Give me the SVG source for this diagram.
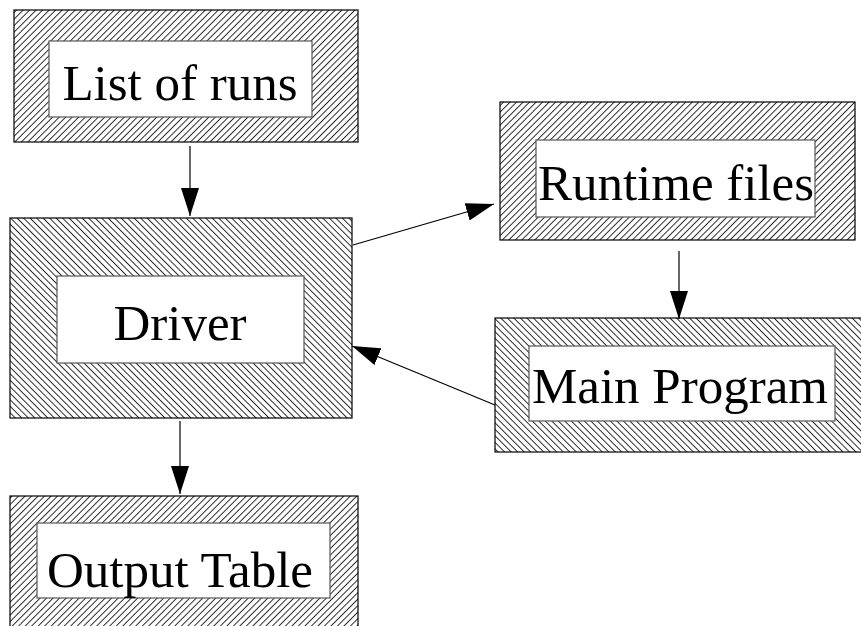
<svg xmlns="http://www.w3.org/2000/svg" width="861" height="626" viewBox="0 0 861 626">
<style>
.outer{stroke:#000;stroke-width:1.2}
.inner{fill:#fff;stroke:#555;stroke-width:1.2}
.lbl{font-family:"Liberation Serif","Times New Roman",serif;font-size:51px;fill:#000;text-anchor:middle}
.conn{stroke:#000;stroke-width:1.2;fill:none}
</style>
<defs>
<pattern id="fwd" patternUnits="userSpaceOnUse" width="4.6" height="10" patternTransform="rotate(45)">
<line x1="0.5" y1="0" x2="0.5" y2="10" stroke="#000" stroke-width="0.85"/>
</pattern>
<pattern id="back" patternUnits="userSpaceOnUse" width="4.6" height="10" patternTransform="rotate(-45)">
<line x1="0.5" y1="0" x2="0.5" y2="10" stroke="#000" stroke-width="0.85"/>
</pattern>
<marker id="ah" viewBox="0 0 28 18" refX="28" refY="9" markerWidth="28" markerHeight="18" markerUnits="userSpaceOnUse" orient="auto">
<path d="M0,0 L28,9 L0,18 Z" fill="#000"/>
</marker>
</defs>
<rect width="861" height="626" fill="#fff"/>
<g id="list-of-runs">
<rect class="outer" x="14" y="10" width="344" height="132" fill="url(#fwd)"/>
<rect class="inner" x="49" y="41" width="263" height="76"/>
<text class="lbl" x="180" y="100">List of runs</text>
</g>
<g id="driver">
<rect class="outer" x="10" y="218" width="342" height="200" fill="url(#back)"/>
<rect class="inner" x="57" y="276" width="247" height="87"/>
<text class="lbl" x="180" y="340">Driver</text>
</g>
<g id="runtime-files">
<rect class="outer" x="500" y="102" width="355" height="138" fill="url(#fwd)"/>
<rect class="inner" x="536" y="140" width="279" height="77"/>
<text class="lbl" x="676" y="200">Runtime files</text>
</g>
<g id="main-program">
<rect class="outer" x="495" y="318" width="370" height="134" fill="url(#back)"/>
<rect class="inner" x="529" y="346" width="306" height="75"/>
<text class="lbl" x="680" y="403">Main Program</text>
</g>
<g id="output-table">
<rect class="outer" x="10" y="496" width="348" height="140" fill="url(#fwd)"/>
<rect class="inner" x="37" y="523" width="293" height="75"/>
<text class="lbl" x="180" y="587">Output Table</text>
</g>
<g id="connectors">
<line class="conn" x1="190" y1="146" x2="190" y2="216" marker-end="url(#ah)"/>
<line class="conn" x1="353" y1="245" x2="494" y2="204" marker-end="url(#ah)"/>
<line class="conn" x1="679" y1="251" x2="679" y2="319" marker-end="url(#ah)"/>
<line class="conn" x1="495" y1="405" x2="352" y2="346" marker-end="url(#ah)"/>
<line class="conn" x1="180" y1="421" x2="180" y2="494" marker-end="url(#ah)"/>
</g>
</svg>
